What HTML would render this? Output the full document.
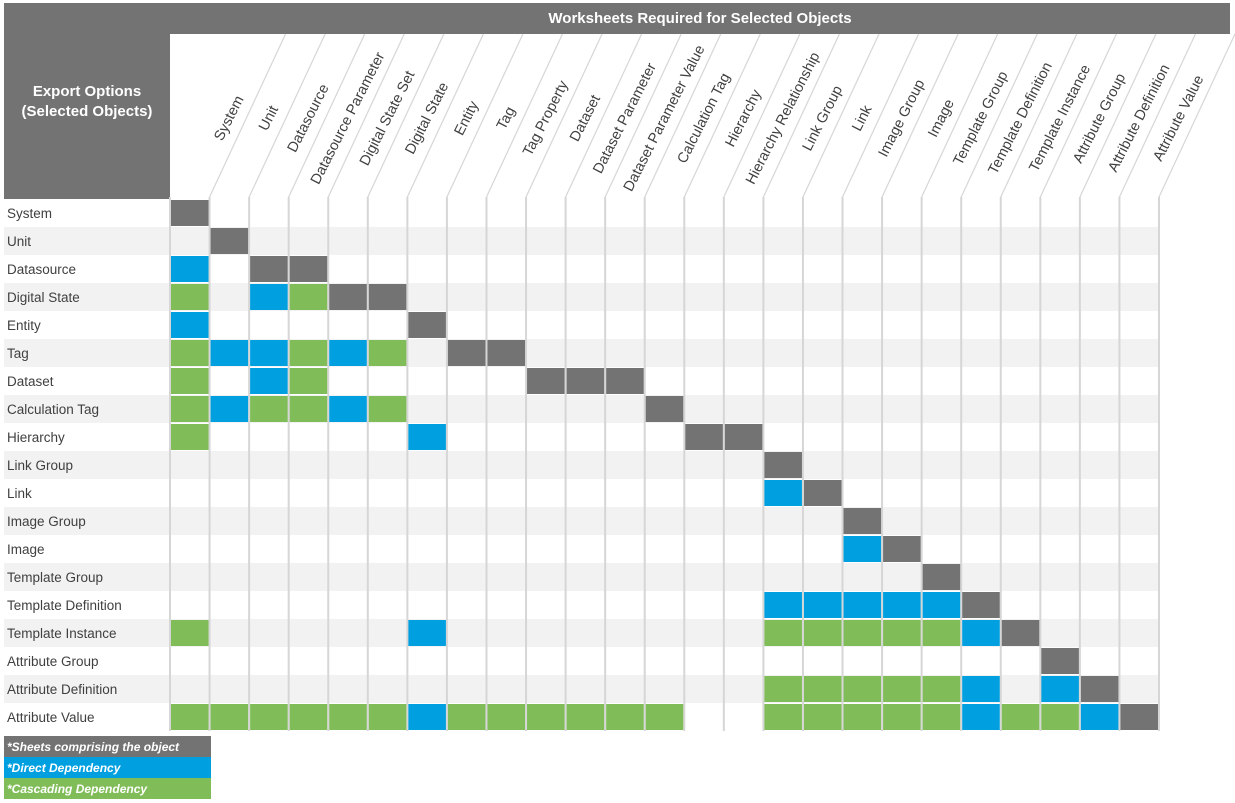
<!DOCTYPE html>
<html><head><meta charset="utf-8"><style>
html,body{margin:0;padding:0;background:#fff;}
svg{display:block;font-family:"Liberation Sans",sans-serif;}
</style></head><body>
<svg id="s" width="1235" height="803" viewBox="0 0 1235 803">
<rect x="4" y="3" width="1226" height="31" fill="#737373"/>
<text x="700" y="23" fill="#fff" font-size="15" font-weight="bold" text-anchor="middle">Worksheets Required for Selected Objects</text>
<rect x="4" y="34" width="166" height="165" fill="#737373"/>
<text x="87" y="96" fill="#fff" font-size="15" font-weight="bold" text-anchor="middle">Export Options</text>
<text x="87" y="116" fill="#fff" font-size="15" font-weight="bold" text-anchor="middle">(Selected Objects)</text>
<g id="grid"></g>
<g font-size="13.5" fill="#404040">
<text x="7" y="218">System</text>
<text x="7" y="246">Unit</text>
<text x="7" y="274">Datasource</text>
<text x="7" y="302">Digital State</text>
<text x="7" y="330">Entity</text>
<text x="7" y="358">Tag</text>
<text x="7" y="386">Dataset</text>
<text x="7" y="414">Calculation Tag</text>
<text x="7" y="442">Hierarchy</text>
<text x="7" y="470">Link Group</text>
<text x="7" y="498">Link</text>
<text x="7" y="526">Image Group</text>
<text x="7" y="554">Image</text>
<text x="7" y="582">Template Group</text>
<text x="7" y="610">Template Definition</text>
<text x="7" y="638">Template Instance</text>
<text x="7" y="666">Attribute Group</text>
<text x="7" y="694">Attribute Definition</text>
<text x="7" y="722">Attribute Value</text>
</g>
<g font-size="14.5" fill="#404040" text-anchor="middle">
<text transform="translate(228.6,118) rotate(-63)" y="5">System</text>
<text transform="translate(268.2,118) rotate(-63)" y="5">Unit</text>
<text transform="translate(307.7,118) rotate(-63)" y="5">Datasource</text>
<text transform="translate(347.3,118) rotate(-63)" y="5">Datasource Parameter</text>
<text transform="translate(386.8,118) rotate(-63)" y="5">Digital State Set</text>
<text transform="translate(426.4,118) rotate(-63)" y="5">Digital State</text>
<text transform="translate(466.0,118) rotate(-63)" y="5">Entity</text>
<text transform="translate(505.5,118) rotate(-63)" y="5">Tag</text>
<text transform="translate(545.1,118) rotate(-63)" y="5">Tag Property</text>
<text transform="translate(584.6,118) rotate(-63)" y="5">Dataset</text>
<text transform="translate(624.2,118) rotate(-63)" y="5">Dataset Parameter</text>
<text transform="translate(663.8,118) rotate(-63)" y="5">Dataset Parameter Value</text>
<text transform="translate(703.3,118) rotate(-63)" y="5">Calculation Tag</text>
<text transform="translate(742.9,118) rotate(-63)" y="5">Hierarchy</text>
<text transform="translate(782.4,118) rotate(-63)" y="5">Hierarchy Relationship</text>
<text transform="translate(822.0,118) rotate(-63)" y="5">Link Group</text>
<text transform="translate(861.6,118) rotate(-63)" y="5">Link</text>
<text transform="translate(901.1,118) rotate(-63)" y="5">Image Group</text>
<text transform="translate(940.7,118) rotate(-63)" y="5">Image</text>
<text transform="translate(980.2,118) rotate(-63)" y="5">Template Group</text>
<text transform="translate(1019.8,118) rotate(-63)" y="5">Template Definition</text>
<text transform="translate(1059.4,118) rotate(-63)" y="5">Template Instance</text>
<text transform="translate(1098.9,118) rotate(-63)" y="5">Attribute Group</text>
<text transform="translate(1138.5,118) rotate(-63)" y="5">Attribute Definition</text>
<text transform="translate(1178.0,118) rotate(-63)" y="5">Attribute Value</text>
</g>
<rect x="4" y="736" width="207" height="21" fill="#737373"/>
<rect x="4" y="757" width="207" height="21" fill="#00a0e0"/>
<rect x="4" y="778" width="207" height="21" fill="#80bd58"/>
<g fill="#fff" font-size="12" font-weight="bold" font-style="italic">
<text x="7" y="751">*Sheets comprising the object</text>
<text x="7" y="772">*Direct Dependency</text>
<text x="7" y="793">*Cascading Dependency</text>
</g>
</svg>
<script>
var NS="http://www.w3.org/2000/svg",g=document.getElementById('grid');
function el(t,a){var e=document.createElementNS(NS,t);for(var k in a)e.setAttribute(k,a[k]);g.appendChild(e);return e;}
var X0=171,W=39.56,Y0=199,H=28;
for(var r=0;r<19;r++){el('rect',{x:4,y:Y0+r*H,width:1156,height:H,fill:r%2?'#f2f2f2':'#fff'});}
for(var i=0;i<=25;i++){var x=X0+i*W-1;el('line',{x1:x,y1:Y0-2,x2:x,y2:731,stroke:'#d6d6d6','stroke-width':2});
 if(i>0)el('line',{x1:x,y1:197,x2:x+76,y2:34,stroke:'#d6d6d6','stroke-width':1.2});}
var rows=["D0","D1","B0 D2 D3","G0 B2 G3 D4 D5","B0 D6","G0 B1 B2 G3 B4 G5 D7 D8","G0 B2 G3 D9 D10 D11",
"G0 B1 G2 G3 B4 G5 D12","G0 B6 D13 D14","D15","B15 D16","D17","B17 D18","D19","B15 B16 B17 B18 B19 D20",
"G0 B6 G15 G16 G17 G18 G19 B20 D21","D22","G15 G16 G17 G18 G19 B20 B22 D23",
"G0 G1 G2 G3 G4 G5 B6 G7 G8 G9 G10 G11 G12 G15 G16 G17 G18 G19 B20 G21 G22 B23 D24"];
var C={D:'#737373',B:'#00a0e0',G:'#80bd58'};
rows.forEach(function(s,r){s.split(' ').forEach(function(t){var c=+t.slice(1);
 el('rect',{x:X0+c*W,y:Y0+r*H+1,width:W-2,height:H-2,fill:C[t[0]]});});});
</script>
</body></html>
